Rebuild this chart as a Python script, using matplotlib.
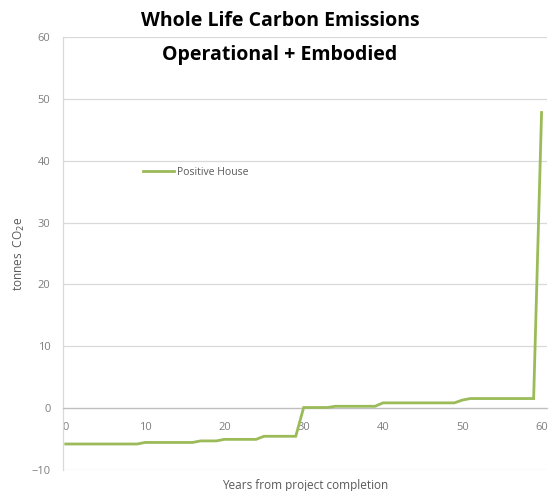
import matplotlib
matplotlib.use("Agg")
import matplotlib.pyplot as plt

# Yearly whole-life carbon balance (tonnes CO2e)
years = list(range(0, 61))
emissions = ([-5.8] * 10 +          # years 0-9
             [-5.55] * 7 +          # years 10-16
             [-5.3] * 3 +           # years 17-19
             [-5.05] * 5 +          # years 20-24
             [-4.55] * 5 +          # years 25-29
             [0.1] * 4 +            # years 30-33
             [0.3] * 6 +            # years 34-39
             [0.85] * 10 +          # years 40-49
             [1.3] +                # year 50
             [1.55] * 9 +           # years 51-59
             [47.8])                # year 60
series_name = "Positive House"
x_ticks = [0, 10, 20, 30, 40, 50, 60]
y_ticks = [-10, 0, 10, 20, 30, 40, 50, 60]

plt.rcParams['font.family'] = ['Open Sans', 'DejaVu Sans']
grey = "#7f7f7f"
grid_grey = "#d9d9d9"
green = "#9BBB59"

fig = plt.figure(figsize=(5.6, 4.91), dpi=100)
ax = fig.add_axes([0.1125, 0.0428, 0.8645, 0.8818])

ax.plot(years, emissions, color=green, linewidth=2.0, label=series_name,
        zorder=3, solid_joinstyle='miter')

ax.set_xlim(-0.35, 60.7)
ax.set_ylim(-10, 60)
ax.set_xticks(x_ticks)
ax.set_yticks(y_ticks)

ax.yaxis.grid(True, color=grid_grey, linewidth=0.9)
ax.set_axisbelow(True)

for side in ("top", "right"):
    ax.spines[side].set_visible(False)
ax.spines["left"].set_color(grid_grey)
ax.spines["left"].set_linewidth(0.9)
ax.spines["bottom"].set_position(("data", 0))
ax.spines["bottom"].set_color("#bfbfbf")
ax.spines["bottom"].set_linewidth(0.9)

ax.tick_params(axis="both", length=0, labelsize=8, labelcolor=grey)
ax.tick_params(axis="x", pad=10)
ax.tick_params(axis="y", pad=9)

ax.set_xlabel("Years from project completion", fontsize=8.5, color="#595959")
ax.xaxis.set_label_coords(0.5, -0.02)
ax.set_ylabel("tonnes  CO$_2$e", fontsize=8.5, color="#595959")
ax.yaxis.set_label_coords(-0.075, 0.5)

fig.text(0.5, 0.957, "Whole Life Carbon Emissions", ha="center", va="center",
         fontsize=14, fontweight="bold", color="black")
fig.text(0.5, 0.888, "Operational + Embodied", ha="center", va="center",
         fontsize=14, fontweight="bold", color="black")

ax.legend(loc="center left", bbox_to_anchor=(0.145, 0.688), frameon=False,
          fontsize=7.5, labelcolor="#595959", handlelength=3.0,
          handletextpad=0.3)

fig.savefig("out.png", dpi=100)
